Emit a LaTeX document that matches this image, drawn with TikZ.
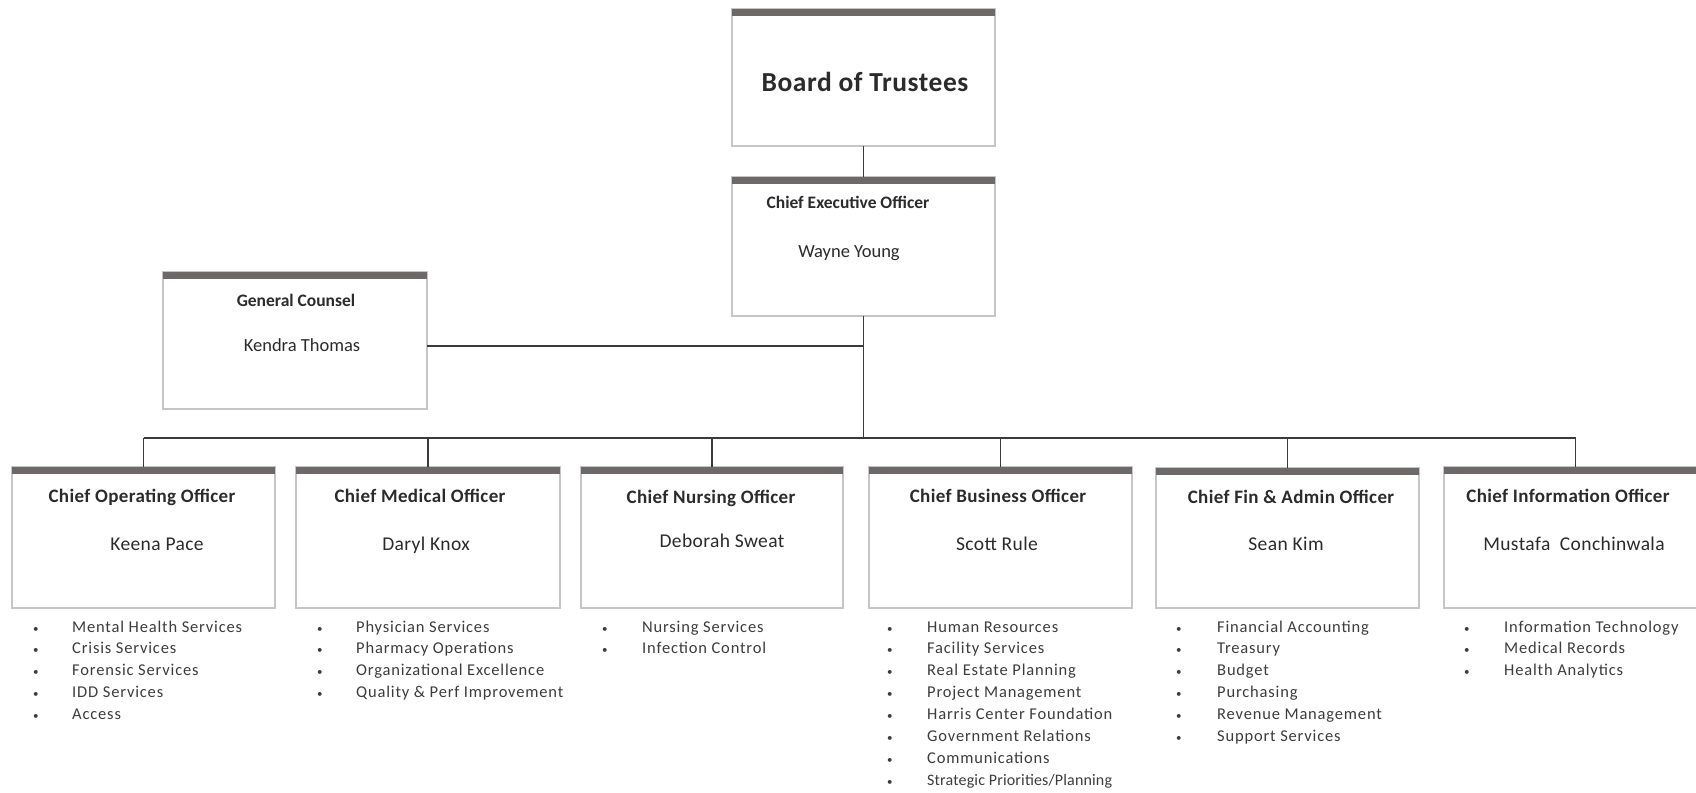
\documentclass[tikz,border=0pt]{standalone}
\usepackage{fontspec}
\setmainfont{Carlito}
\usetikzlibrary{calc}
\definecolor{bargray}{HTML}{6E6969}
\definecolor{bordergray}{HTML}{C6C6C6}
\definecolor{linegray}{HTML}{3A3A3A}
\definecolor{txt}{HTML}{2B2B2B}
\definecolor{listtxt}{HTML}{3C3C3C}
\newcommand{\blt}{{\fontsize{11}{11}\selectfont\textbullet}}
\newcommand{\mkbox}[5]{%
  \node[orgbox, minimum width=#4pt, minimum height=#5pt] (#1) at (#2,#3) {};}
\newcommand{\mkbar}[1]{%
  \fill[bargray] (#1.north west) rectangle ($(#1.north east)+(0,7)$);}
\begin{document}
\begin{tikzpicture}[x=1pt,y=-1pt,
  orgbox/.style={draw=bordergray, line width=1.3pt, fill=white, inner sep=0pt, outer sep=0pt, anchor=north west},
  conn/.style={draw=linegray, line width=1.8pt},
  ttl/.style={font=\fontsize{17.5}{20}\selectfont\bfseries, text=txt, anchor=base, inner sep=0pt},
  lttl/.style={font=\fontsize{19}{22}\selectfont\bfseries\addfontfeature{LetterSpace=2}, text=txt, anchor=base, inner sep=0pt},
  nm/.style={font=\fontsize{18.5}{22}\selectfont, text=txt, anchor=base, inner sep=0pt},
  lnm/.style={font=\fontsize{19.5}{22}\selectfont\addfontfeature{LetterSpace=2}, text=txt, anchor=base, inner sep=0pt},
  bigttl/.style={font=\fontsize{27.5}{30}\selectfont\bfseries\addfontfeature{LetterSpace=2}, text=txt, anchor=base, inner sep=0pt},
  lst/.style={font=\fontsize{16.5}{21.9}\selectfont\addfontfeature{LetterSpace=5}, text=listtxt, anchor=base west, inner sep=0pt},
]
\useasboundingbox (0,0) rectangle (1696,792);
\clip (0,0) rectangle (1696,792);

% boxes
\mkbox{board}{732}{9}{263}{137}
\mkbox{ceo}{732}{177}{263}{139}
\mkbox{gc}{163}{272}{264}{137}
\mkbox{coo}{12}{467}{263}{141}
\mkbox{cmo}{296}{467}{264}{141}
\mkbox{cno}{581}{467}{262}{141}
\mkbox{cbo}{869}{467}{263}{141}
\mkbox{cfao}{1156}{468}{263}{140}
\mkbox{cio}{1444}{467}{263}{141}

% connectors
\coordinate (hub) at (ceo.south |- 0,438);
\coordinate (gcj) at (ceo.south |- 0,346);
\draw[conn] (board.south) -- (ceo.north);
\draw[conn] (ceo.south) -- (hub);
\draw[conn] (gcj) -- (gcj -| gc.east);
\draw[conn] (coo.north |- hub) -- (cio.north |- hub);
\foreach \n in {coo,cmo,cno,cbo,cfao,cio}{
  \draw[conn] (\n.north |- hub) -- (\n.north);
}

% top bars
\foreach \n in {board,ceo,gc,coo,cmo,cno,cbo,cfao,cio}{
  \mkbar{\n}
}

% texts
\node[bigttl] (boardT) at (865,92) {Board of Trustees};
\node[ttl] (ceoT) at (848,208) {Chief Executive Officer};
\node[nm] (ceoN) at (849,257) {Wayne Young};
\node[ttl] (gcT) at (296,306) {General Counsel};
\node[nm] (gcN) at (302,351) {Kendra Thomas};

\node[lttl] (cooT) at (142,502) {Chief Operating Officer};
\node[lnm] (cooN) at (157,550) {Keena Pace};
\node[lttl] (cmoT) at (420,502) {Chief Medical Officer};
\node[lnm] (cmoN) at (426,550) {Daryl Knox};
\node[lttl] (cnoT) at (711,503) {Chief Nursing Officer};
\node[lnm] (cnoN) at (722,547) {Deborah Sweat};
\node[lttl] (cboT) at (998,502) {Chief Business Officer};
\node[lnm] (cboN) at (997,550) {Scott Rule};
\node[lttl] (cfaoT) at (1291,503) {Chief Fin \& Admin Officer};
\node[lnm] (cfaoN) at (1286,550) {Sean Kim};
\node[lttl] (cioT) at (1568,502) {Chief Information Officer};
\node[lnm] (cioN) at (1574,550) {Mustafa~~Conchinwala};

% lists
\node[lst] (cooL) at (33,632) {\begin{tabular}[t]{@{}p{39pt}@{}l@{}}
\blt & Mental Health Services\\
\blt & Crisis Services\\
\blt & Forensic Services\\
\blt & IDD Services\\
\blt & Access
\end{tabular}};
\node[lst] (cmoL) at (317,632) {\begin{tabular}[t]{@{}p{39pt}@{}l@{}}
\blt & Physician Services\\
\blt & Pharmacy Operations\\
\blt & Organizational Excellence\\
\blt & Quality \& Perf Improvement
\end{tabular}};
\node[lst] (cnoL) at (602,632) {\begin{tabular}[t]{@{}p{40pt}@{}l@{}}
\blt & Nursing Services\\
\blt & Infection Control
\end{tabular}};
\node[lst] (cboL) at (887,632) {\begin{tabular}[t]{@{}p{40pt}@{}l@{}}
\blt & Human Resources\\
\blt & Facility Services\\
\blt & Real Estate Planning\\
\blt & Project Management\\
\blt & Harris Center Foundation\\
\blt & Government Relations\\
\blt & Communications\\
\blt & {\fontsize{16}{21.9}\selectfont\addfontfeature{LetterSpace=1}Strategic Priorities/Planning}
\end{tabular}};
\node[lst] (cfaoL) at (1176,632) {\begin{tabular}[t]{@{}p{41pt}@{}l@{}}
\blt & Financial Accounting\\
\blt & Treasury\\
\blt & Budget\\
\blt & Purchasing\\
\blt & Revenue Management\\
\blt & Support Services
\end{tabular}};
\node[lst] (cioL) at (1464,632) {\begin{tabular}[t]{@{}p{40pt}@{}l@{}}
\blt & Information Technology\\
\blt & Medical Records\\
\blt & Health Analytics
\end{tabular}};
\end{tikzpicture}
\end{document}
